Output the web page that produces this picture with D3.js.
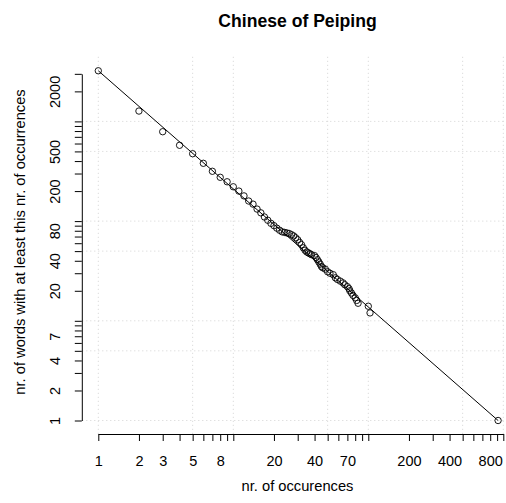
<!DOCTYPE html>
<html lang="en">
  <head>
    <meta charset="UTF-8" />
    <title>Chinese of Peiping</title>
    <script src="https://d3js.org/d3.v7.min.js"></script>
    <style>
      body { margin: 0; background: #fff; }
      svg text { font-family: "Liberation Sans", Arial, sans-serif; fill: #000; }
    </style>
  </head>
  <body>
    <svg id="chart" width="506" height="503"></svg>
    <script>
      // data: x = nr. of occurences, y = nr. of words with at least that many
      const occurences = [
        1, 2, 3, 4, 5, 6, 7, 8, 9, 10, 11, 12, 13, 14, 15, 16, 17, 18, 19, 20,
        21, 22, 23, 24, 25, 26, 27, 28, 29, 30, 31, 32, 33, 34, 35, 36, 37, 38,
        40, 41, 42, 43, 44, 45, 46, 48, 50, 52, 55, 57, 59, 62, 65, 67, 70, 72,
        73, 75, 77, 80, 82, 84, 100, 103, 915
      ];
      const wordCounts = [
        3220, 1270, 788, 576, 474, 380, 316, 275, 248, 221, 200, 179, 159, 148,
        132, 121, 110, 102, 95, 90, 85, 81, 78, 77, 76, 75, 73, 71, 68, 65, 61,
        58, 54, 51, 49, 48, 47, 46, 45, 43, 41, 39, 37, 35, 34, 33, 31, 30, 29,
        27, 26, 25, 24, 23, 22, 21, 20, 19, 18, 17, 16, 15, 14, 12, 1
      ];
      // fitted line, drawn between the first and last point
      const fitX = [1, 915];
      const fitY = [3220, 1];

      const xTicks = [1, 2, 3, 4, 5, 6, 7, 8, 9, 10, 20, 30, 40, 50, 60, 70, 80, 90,
        100, 200, 300, 400, 500, 600, 700, 800, 900, 1000];
      const xLabels = [1, 2, 3, 5, 8, 20, 40, 70, 200, 400, 800];
      const yTicks = [1, 2, 3, 4, 5, 6, 7, 8, 9, 10, 20, 30, 40, 50, 60, 70, 80, 90,
        100, 200, 300, 400, 500, 600, 700, 800, 900, 1000, 2000, 3000];
      const yLabels = [1, 2, 4, 7, 20, 40, 80, 200, 500, 2000];
      const gridX = [1, 5, 10, 50, 100, 500, 1000];
      const gridY = [1, 5, 10, 50, 100, 500, 1000];

      const svg = d3.select("#chart");

      // plot region (R style, 4% padding on log range)
      const plotLeft = 82.3, plotRight = 514, plotTop = 56.8, plotBottom = 434.5;

      const x = d3.scaleLog().domain([1, 1000]).range([98.3, 503.3]);
      const y = d3.scaleLog().domain([1, 3000])
        .range([420.5, 420.5 - 99.7 * Math.log10(3000)]);

      // grid
      svg.append("g")
        .selectAll("line")
        .data(gridX)
        .join("line")
        .attr("x1", (d) => x(d))
        .attr("x2", (d) => x(d))
        .attr("y1", plotTop)
        .attr("y2", plotBottom)
        .attr("stroke", "#d3d3d3")
        .attr("stroke-dasharray", "1,3");
      svg.append("g")
        .selectAll("line")
        .data(gridY)
        .join("line")
        .attr("x1", plotLeft)
        .attr("x2", plotRight)
        .attr("y1", (d) => y(d))
        .attr("y2", (d) => y(d))
        .attr("stroke", "#d3d3d3")
        .attr("stroke-dasharray", "1,3");

      // x axis
      const xAxis = svg.append("g")
        .attr("transform", `translate(0,${plotBottom - 0.5})`)
        .call(
          d3.axisBottom(x)
            .tickValues(xTicks)
            .tickSize(7)
            .tickSizeOuter(0)
            .tickFormat((d) => (xLabels.includes(d) ? d : ""))
        );
      xAxis.selectAll(".tick text")
        .attr("dy", null)
        .attr("y", 32)
        .style("font-size", "14.5px");

      // y axis
      const yAxis = svg.append("g")
        .attr("transform", `translate(${plotLeft - 0.5},0)`)
        .call(
          d3.axisLeft(y)
            .tickValues(yTicks)
            .tickSize(7)
            .tickSizeOuter(0)
            .tickFormat((d) => (yLabels.includes(d) ? d : ""))
        );
      yAxis.selectAll(".tick text")
        .attr("x", null)
        .attr("dy", null)
        .attr("text-anchor", "middle")
        .attr("transform", "translate(-22,0) rotate(-90)")
        .style("font-size", "14.5px");
      svg.selectAll(".domain, .tick line").attr("stroke", "#000");

      // fitted line
      const line = d3.line()
        .x((d, i) => x(fitX[i]))
        .y((d) => y(d));
      svg.append("path")
        .datum(fitY)
        .attr("d", line)
        .attr("fill", "none")
        .attr("stroke", "#000")
        .attr("stroke-width", 1);

      // points
      svg.append("g")
        .selectAll("circle")
        .data(occurences)
        .join("circle")
        .attr("cx", (d) => x(d))
        .attr("cy", (d, i) => y(wordCounts[i]))
        .attr("r", 3.2)
        .attr("fill", "none")
        .attr("stroke", "#000")
        .attr("stroke-width", 0.9);

      // titles
      svg.append("text")
        .attr("x", 297.5)
        .attr("y", 26.5)
        .attr("text-anchor", "middle")
        .style("font-size", "17.6px")
        .style("font-weight", "bold")
        .text("Chinese of Peiping");
      svg.append("text")
        .attr("x", 297.5)
        .attr("y", 491)
        .attr("text-anchor", "middle")
        .style("font-size", "14.7px")
        .text("nr. of occurences");
      svg.append("text")
        .attr("transform", "translate(25,242) rotate(-90)")
        .attr("text-anchor", "middle")
        .style("font-size", "14.7px")
        .text("nr. of words with at least this nr. of occurrences");
    </script>
  </body>
</html>
